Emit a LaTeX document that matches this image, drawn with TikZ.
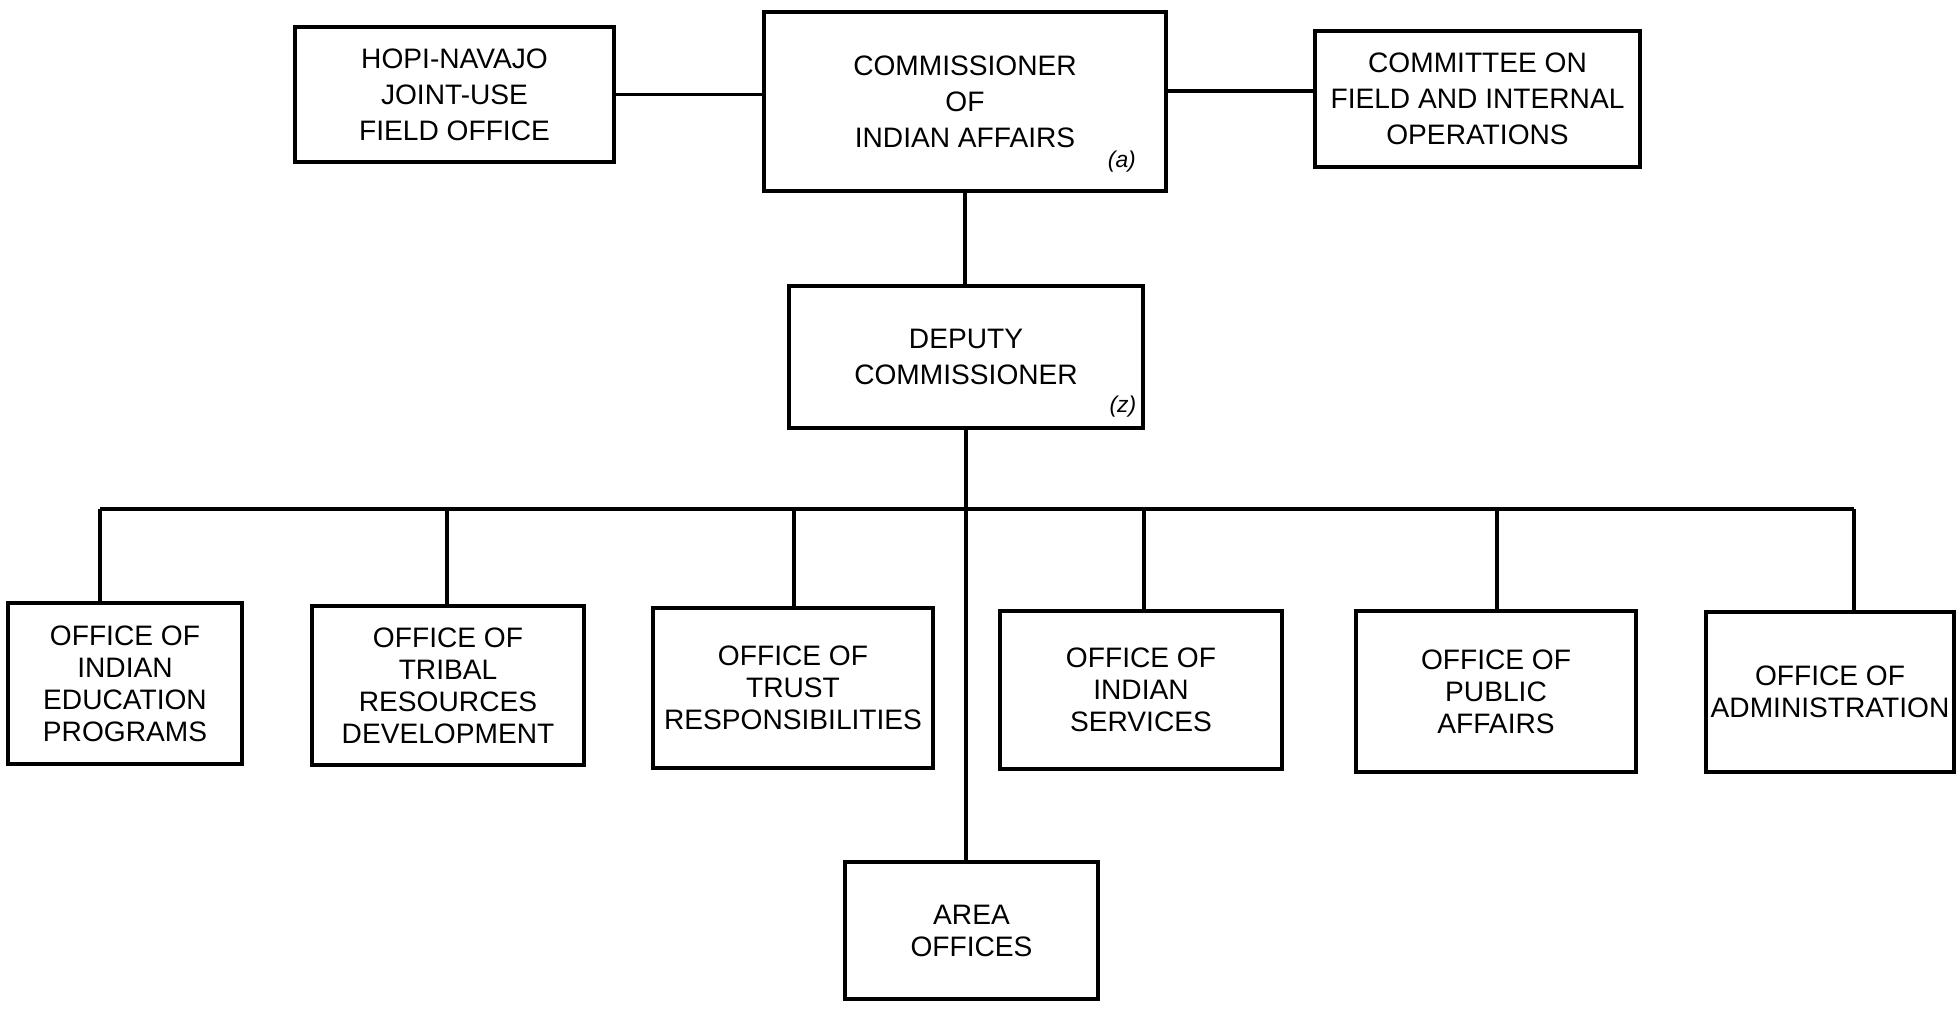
\documentclass[tikz,border=0pt]{standalone}
\usepackage{fontspec}
\setmainfont{Liberation Sans}
\usetikzlibrary{positioning}
\def\busrow{509}

\begin{document}
\begin{tikzpicture}[x=0.01cm,y=-0.01cm,line width=0.9pt,draw=black]
    \tikzstyle{unit}=[rectangle,draw=black,line width=1pt,align=center,inner sep=2pt,font=\fontsize{8}{10.2}\selectfont]
    \tikzstyle{office}=[unit,font=\fontsize{8}{9.1}\selectfont]
    \tikzstyle{tag}=[inner sep=0pt,font=\itshape\fontsize{6.5}{7}\selectfont]

    \useasboundingbox (0,0) rectangle (1958,1015);

    % top row
    \node[unit,minimum width=4.02cm,minimum height=1.79cm] (comm) at (965,101.5) {COMMISSIONER\\OF\\INDIAN AFFAIRS};
    \node[unit,minimum width=3.19cm,minimum height=1.35cm] (hopi) at (454.5,94.5) {HOPI-NAVAJO\\JOINT-USE\\FIELD OFFICE};
    \node[unit,minimum width=3.25cm,minimum height=1.36cm] (cttee) at (1477.5,99) {COMMITTEE ON\\FIELD AND INTERNAL\\OPERATIONS};
    \node[tag] (comm-tag) at ([shift={(-46,-31)}]comm.south east) {(a)};

    \node[unit,minimum width=3.54cm,minimum height=1.42cm] (dep) at (966,357) {DEPUTY\\COMMISSIONER};
    \node[tag] (dep-tag) at ([shift={(-22,-23)}]dep.south east) {(z)};

    \node[office,minimum width=2.53cm,minimum height=1.37cm] (area) at (971.5,930.5) {AREA\\OFFICES};

    \path (hopi.east) edge (hopi.east -| comm.west);
    \path ([yshift=0.08cm]cttee.west) edge ([yshift=0.08cm]cttee.west -| comm.east);
    \path (comm.south) edge (comm.south |- dep.north);
    \path (dep.south) edge (dep.south |- area.north);

    % offices on the bus
    \foreach \cx/\cy/\w/\h/\dx/\txt [count=\i] in {
        125/683.5/234/161/100/{OFFICE OF\\INDIAN\\EDUCATION\\PROGRAMS},
        448/685.5/272/159/447/{OFFICE OF\\TRIBAL\\RESOURCES\\DEVELOPMENT},
        793/688/280/160/794/{OFFICE OF\\TRUST\\RESPONSIBILITIES},
        1141/690/282/158/1144/{OFFICE OF\\INDIAN\\SERVICES},
        1496/691.5/280/161/1497/{OFFICE OF\\PUBLIC\\AFFAIRS},
        1830/692/248/160/1854/{OFFICE OF\\ADMINISTRATION}}{
        \node[office,inner xsep=0pt,minimum width=\w*0.01cm,minimum height=\h*0.01cm] (O-\i) at (\cx,\cy) {\txt};
        \coordinate (B-\i) at (\dx,\busrow);
        \path (B-\i) edge (B-\i |- O-\i.north);
    }
    \path (B-1) edge (B-6);
\end{tikzpicture}
\end{document}
